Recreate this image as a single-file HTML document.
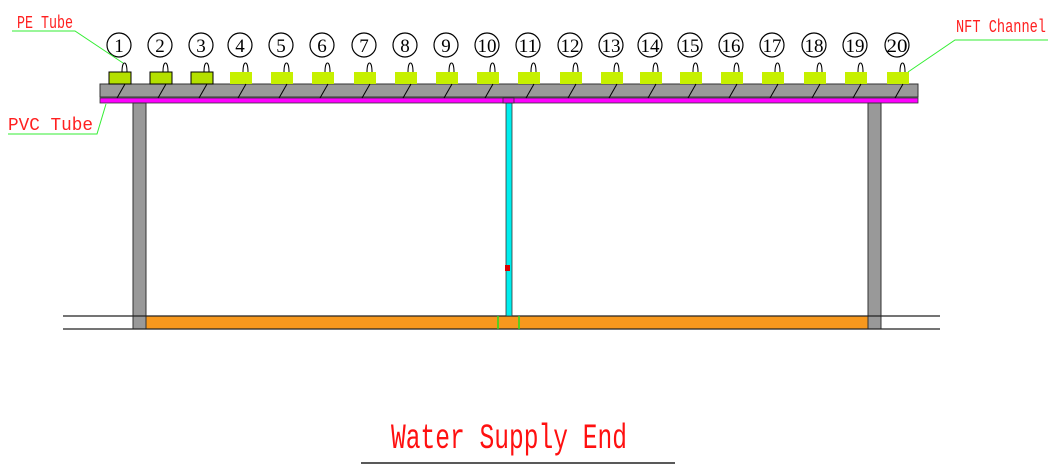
<!DOCTYPE html>
<html><head><meta charset="utf-8"><style>
html,body{margin:0;padding:0;background:#fff;}
svg{display:block;}
.n{font-family:"Liberation Serif",serif;font-size:19px;text-anchor:middle;fill:#000;}
.lb{font-family:"Liberation Mono",monospace;font-size:18px;fill:#ff2020;}
</style></head><body>
<svg width="1056" height="464" viewBox="0 0 1056 464" xmlns="http://www.w3.org/2000/svg">
<defs>
<g id="ch">
<circle cx="0" cy="45" r="12" fill="none" stroke="#000" stroke-width="1.2"/>
<rect x="-10" y="72" width="22" height="12" fill="#c6f000"/>
<path d="M3,72 C3,60 8,60 8,72" fill="none" stroke="#000" stroke-width="1"/>
<line x1="6" y1="84" x2="-2" y2="98" stroke="#000" stroke-width="1"/>
</g>
<g id="chb">
<circle cx="0" cy="45" r="12" fill="none" stroke="#000" stroke-width="1.2"/>
<rect x="-10" y="72" width="22" height="12" fill="#b4e000" stroke="#000" stroke-width="1"/>
<path d="M3,72 C3,60 8,60 8,72" fill="none" stroke="#000" stroke-width="1"/>
<line x1="6" y1="84" x2="-2" y2="98" stroke="#000" stroke-width="1"/>
</g>
</defs>
<rect x="100" y="84" width="818" height="13" fill="#999" stroke="#333" stroke-width="1"/>
<rect x="100" y="98" width="818" height="5" fill="#f0f" stroke="#333" stroke-width="0.8"/>
<rect x="133" y="103" width="13" height="226" fill="#999" stroke="#333" stroke-width="1"/>
<rect x="868" y="103" width="13" height="226" fill="#999" stroke="#333" stroke-width="1"/>
<rect x="146" y="316" width="722" height="13" fill="#f7981d" stroke="#333" stroke-width="1"/>
<line x1="63" y1="316" x2="940" y2="316" stroke="#222" stroke-width="1.2"/>
<line x1="63" y1="329" x2="940" y2="329" stroke="#222" stroke-width="1.2"/>
<rect x="506" y="103" width="6" height="213" fill="#0ee" stroke="#333" stroke-width="0.8"/>
<rect x="503" y="98" width="11" height="5" fill="#e0e" stroke="#333" stroke-width="0.8"/>
<rect x="505" y="265" width="5" height="6" fill="#d00"/>
<line x1="498" y1="316" x2="498" y2="329" stroke="#2d2" stroke-width="1.5"/>
<line x1="519" y1="316" x2="519" y2="329" stroke="#2d2" stroke-width="1.5"/>
<use href="#chb" x="119"/><use href="#chb" x="160"/><use href="#chb" x="201"/>
<use href="#ch" x="240"/><use href="#ch" x="281"/><use href="#ch" x="322"/><use href="#ch" x="364"/>
<use href="#ch" x="405"/><use href="#ch" x="446"/><use href="#ch" x="487"/><use href="#ch" x="528"/>
<use href="#ch" x="570"/><use href="#ch" x="611"/><use href="#ch" x="650"/><use href="#ch" x="690"/>
<use href="#ch" x="731"/><use href="#ch" x="772"/><use href="#ch" x="814"/><use href="#ch" x="855"/>
<use href="#ch" x="897"/>
<text class="n" x="119" y="52">1</text><text class="n" x="160" y="52">2</text><text class="n" x="201" y="52">3</text>
<text class="n" x="240" y="52">4</text><text class="n" x="281" y="52">5</text><text class="n" x="322" y="52">6</text>
<text class="n" x="364" y="52">7</text><text class="n" x="405" y="52">8</text><text class="n" x="446" y="52">9</text>
<text class="n" x="487" y="52" textLength="19" lengthAdjust="spacingAndGlyphs">10</text>
<text class="n" x="528" y="52" textLength="19" lengthAdjust="spacingAndGlyphs">11</text>
<text class="n" x="570" y="52" textLength="19" lengthAdjust="spacingAndGlyphs">12</text>
<text class="n" x="611" y="52" textLength="19" lengthAdjust="spacingAndGlyphs">13</text>
<text class="n" x="650" y="52" textLength="19" lengthAdjust="spacingAndGlyphs">14</text>
<text class="n" x="690" y="52" textLength="19" lengthAdjust="spacingAndGlyphs">15</text>
<text class="n" x="731" y="52" textLength="19" lengthAdjust="spacingAndGlyphs">16</text>
<text class="n" x="772" y="52" textLength="19" lengthAdjust="spacingAndGlyphs">17</text>
<text class="n" x="814" y="52" textLength="19" lengthAdjust="spacingAndGlyphs">18</text>
<text class="n" x="855" y="52" textLength="19" lengthAdjust="spacingAndGlyphs">19</text>
<text class="n" x="897" y="52" textLength="21" lengthAdjust="spacingAndGlyphs">20</text>
<text class="lb" x="17" y="28" textLength="56" lengthAdjust="spacingAndGlyphs">PE Tube</text>
<polyline points="12,31 75,31 123,63" fill="none" stroke="#3e3" stroke-width="1"/>
<text class="lb" x="8" y="130" textLength="85" lengthAdjust="spacingAndGlyphs">PVC Tube</text>
<polyline points="8,134 97,134 106,104" fill="none" stroke="#3e3" stroke-width="1"/>
<text class="lb" x="956" y="32" textLength="90" lengthAdjust="spacingAndGlyphs">NFT Channel</text>
<polyline points="1048,40 955,40 908,72" fill="none" stroke="#3e3" stroke-width="1"/>
<text x="391" y="448" font-family="Liberation Mono, monospace" font-size="35" fill="#ff1010" textLength="236" lengthAdjust="spacingAndGlyphs">Water Supply End</text>
<line x1="361" y1="463" x2="675" y2="463" stroke="#222" stroke-width="1.5"/>
</svg>
</body></html>
